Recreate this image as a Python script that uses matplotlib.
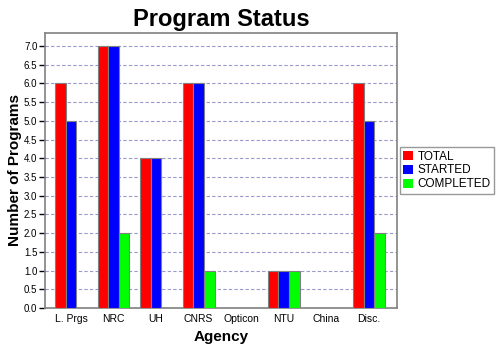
import matplotlib
matplotlib.use("Agg")
import matplotlib.pyplot as plt
import numpy as np
from matplotlib.ticker import MultipleLocator, FormatStrFormatter

plt.rcParams["font.family"] = ["Liberation Sans", "DejaVu Sans"]

agencies = ["L. Prgs", "NRC", "UH", "CNRS", "Opticon", "NTU", "China", "Disc."]
total = [6, 7, 4, 6, 0, 1, 0, 6]
started = [5, 7, 4, 6, 0, 1, 0, 5]
completed = [0, 2, 0, 1, 0, 1, 0, 2]

series = [("TOTAL", total, "#ff0000"),
          ("STARTED", started, "#0000ff"),
          ("COMPLETED", completed, "#00ff00")]

fig = plt.figure(figsize=(5, 3.5), dpi=100)
ax = fig.add_axes([0.09, 0.12, 0.704, 0.786])

x = np.arange(len(agencies))
width = 0.25
for i, (name, vals, color) in enumerate(series):
    ax.bar(x + (i - 1) * width, vals, width, color=color, edgecolor="#808080",
           linewidth=0.8, label=name, zorder=3)

ax.set_xlim(-0.61, len(agencies) - 1 + 0.66)
ax.set_ylim(0, 7.35)
ax.yaxis.set_major_locator(MultipleLocator(0.5))
ax.yaxis.set_major_formatter(FormatStrFormatter("%.1f"))
ax.grid(axis="y", color="#9999cc", linestyle=(0, (3, 2)), linewidth=0.8, zorder=0)

ax.set_xticks(x)
ax.set_xticklabels(agencies)
ax.tick_params(axis="x", length=0, labelsize=7.5, pad=4)
ax.tick_params(axis="y", length=4, width=1, color="black", labelsize=7, pad=1.5)
for spine in ax.spines.values():
    spine.set_color("#808080")
    spine.set_linewidth(1.2)

ax.set_title("Program Status", fontsize=17, fontweight="bold", pad=5)
ax.set_xlabel("Agency", fontsize=11, fontweight="bold", labelpad=5)
ax.set_ylabel("Number of Programs", fontsize=11, fontweight="bold")
ax.yaxis.set_label_coords(-0.064, 0.5)

leg = ax.legend(loc="center left", bbox_to_anchor=(1.008, 0.5), fontsize=8.5,
                handlelength=0.8, handleheight=0.8, handletextpad=0.4,
                borderpad=0.3, labelspacing=0.15, fancybox=False,
                borderaxespad=0)
leg.get_frame().set_edgecolor("#808080")
leg.get_frame().set_linewidth(1.0)
for h in leg.legend_handles:
    h.set_edgecolor("none")

fig.savefig("out.png", dpi=100)
